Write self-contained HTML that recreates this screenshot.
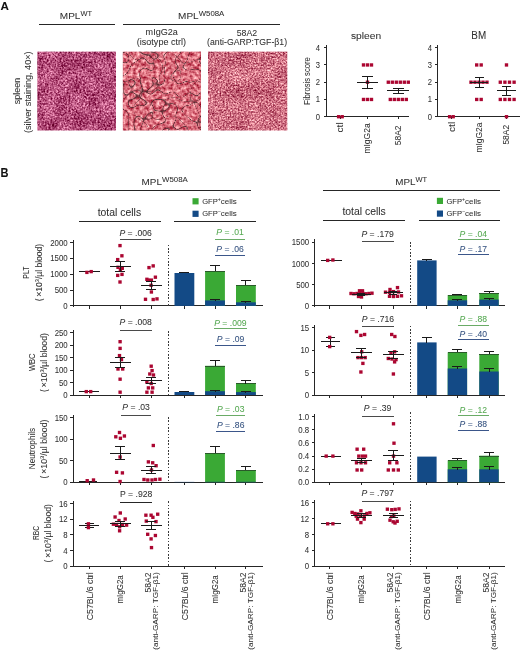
<!DOCTYPE html>
<html><head><meta charset="utf-8"><title>Figure</title>
<style>
html,body{margin:0;padding:0;background:#fff;}
body{width:520px;height:650px;overflow:hidden;}
svg{display:block;filter:blur(0.3px);}
svg text{font-family:"Liberation Sans", sans-serif;stroke-width:0.05px;}
svg line{shape-rendering:crispEdges;}
</style></head>
<body>
<svg width="520" height="650" viewBox="0 0 520 650">
<defs>
<filter id="h1" x="0" y="0" width="1" height="1" color-interpolation-filters="sRGB">
<feTurbulence type="fractalNoise" baseFrequency="0.55" numOctaves="2" seed="3" result="f0"/>
<feColorMatrix in="f0" type="matrix" values="1 0 0 0 0  1 0 0 0 0  1 0 0 0 0  0 0 0 0 1" result="f"/>
<feTurbulence type="fractalNoise" baseFrequency="0.07" numOctaves="2" seed="9" result="c0"/>
<feColorMatrix in="c0" type="matrix" values="1 0 0 0 0  1 0 0 0 0  1 0 0 0 0  0 0 0 0 1" result="c"/>
<feComposite in="f" in2="c" operator="arithmetic" k1="0" k2="0.9" k3="0.28" k4="-0.09" result="m0"/>
<feColorMatrix in="m0" type="matrix" values="1 0 0 0 0  1 0 0 0 0  1 0 0 0 0  0 0 0 0 1" result="m"/>
<feColorMatrix in="m" type="matrix" values="1.05 0 0 0 0.18  1.2 0 0 0 -0.29  1.1 0 0 0 -0.07  0 0 0 0 1"/>
<feComposite in2="SourceGraphic" operator="in"/>
</filter>
<filter id="h2" x="0" y="0" width="1" height="1" color-interpolation-filters="sRGB">
<feTurbulence type="fractalNoise" baseFrequency="0.3" numOctaves="2" seed="7" result="n"/>
<feColorMatrix in="n" type="matrix" values="0.75 0 0 0 0.48  1.2 0 0 0 -0.16  1.05 0 0 0 -0.03  0 0 0 0 1" result="b"/>
<feTurbulence type="turbulence" baseFrequency="0.085" numOctaves="1" seed="21" result="t"/>
<feColorMatrix in="t" type="matrix" values="0 0 0 0 0.3  0 0 0 0 0.16  0 0 0 0 0.18  0 0 0 -20 0.9" result="l"/>
<feTurbulence type="turbulence" baseFrequency="0.05" numOctaves="1" seed="5" result="t2"/>
<feColorMatrix in="t2" type="matrix" values="0 0 0 0 0.28  0 0 0 0 0.14  0 0 0 0 0.16  0 0 0 -24 0.55" result="l2"/>
<feComposite in="l" in2="b" operator="over" result="c"/>
<feComposite in="l2" in2="c" operator="over" result="c2"/>
<feComposite in="c2" in2="SourceGraphic" operator="in"/>
</filter>
<filter id="h3" x="0" y="0" width="1" height="1" color-interpolation-filters="sRGB">
<feTurbulence type="fractalNoise" baseFrequency="0.6" numOctaves="2" seed="11" result="f0"/>
<feColorMatrix in="f0" type="matrix" values="1 0 0 0 0  1 0 0 0 0  1 0 0 0 0  0 0 0 0 1" result="f"/>
<feTurbulence type="fractalNoise" baseFrequency="0.06" numOctaves="2" seed="4" result="c0"/>
<feColorMatrix in="c0" type="matrix" values="1 0 0 0 0  1 0 0 0 0  1 0 0 0 0  0 0 0 0 1" result="c"/>
<feComposite in="f" in2="c" operator="arithmetic" k1="0" k2="0.9" k3="0.25" k4="-0.075" result="m0"/>
<feColorMatrix in="m0" type="matrix" values="1 0 0 0 0  1 0 0 0 0  1 0 0 0 0  0 0 0 0 1" result="m"/>
<feColorMatrix in="m" type="matrix" values="1.0 0 0 0 0.309  1.3 0 0 0 -0.206  1.1 0 0 0 -0.034  0 0 0 0 1"/>
<feComposite in2="SourceGraphic" operator="in"/>
</filter>
</defs>
<rect width="520" height="650" fill="#fff"/>
<text x="0.4" y="9.9" font-size="11.6" font-weight="bold" fill="#111" stroke="#111">A</text>
<text x="0.5" y="176.6" font-size="12.3" font-weight="bold" fill="#111" stroke="#111" textLength="8.0" lengthAdjust="spacingAndGlyphs">B</text>
<text x="59.8" y="18.75" font-size="9.3" fill="#303030" stroke="#303030"><tspan textLength="20.6" lengthAdjust="spacingAndGlyphs">MPL</tspan><tspan font-size="6.6" dy="-3.2" textLength="11.6" lengthAdjust="spacingAndGlyphs">WT</tspan></text>
<text x="178.1" y="18.75" font-size="9.3" fill="#303030" stroke="#303030"><tspan textLength="20.6" lengthAdjust="spacingAndGlyphs">MPL</tspan><tspan font-size="6.6" dy="-3.2" textLength="25.6" lengthAdjust="spacingAndGlyphs">W508A</tspan></text>
<line x1="38.9" y1="24.5" x2="114.8" y2="24.5" stroke="#262626" stroke-width="1" />
<line x1="122.8" y1="24.5" x2="280.4" y2="24.5" stroke="#262626" stroke-width="1" />
<text x="145.6" y="35.1" font-size="8.8" text-anchor="start" fill="#303030" stroke="#303030" textLength="32.2" lengthAdjust="spacingAndGlyphs" >mIgG2a</text>
<text x="136.8" y="45.1" font-size="8.8" text-anchor="start" fill="#303030" stroke="#303030" textLength="49.2" lengthAdjust="spacingAndGlyphs" >(isotype ctrl)</text>
<text x="236.7" y="35.6" font-size="8.8" text-anchor="start" fill="#303030" stroke="#303030" textLength="20.4" lengthAdjust="spacingAndGlyphs" >58A2</text>
<text x="207.1" y="45.3" font-size="8.8" text-anchor="start" fill="#303030" stroke="#303030" textLength="80.0" lengthAdjust="spacingAndGlyphs" >(anti-GARP:TGF-β1)</text>
<text transform="translate(20.1,91.0) rotate(-90)" font-size="9.0" text-anchor="middle" fill="#303030" stroke="#303030" textLength="26.5" lengthAdjust="spacingAndGlyphs" >spleen</text>
<text transform="translate(31.2,92.2) rotate(-90)" font-size="9.0" text-anchor="middle" fill="#303030" stroke="#303030" textLength="81.5" lengthAdjust="spacingAndGlyphs" >(silver staining, 40×)</text>
<rect x="37.3" y="51.6" width="78.7" height="78.9" fill="#000" filter="url(#h1)"/>
<rect x="122.8" y="51.6" width="78.2" height="78.9" fill="#000" filter="url(#h2)"/>
<rect x="208.0" y="51.6" width="79.3" height="78.9" fill="#000" filter="url(#h3)"/>
<line x1="326.5" y1="45.0" x2="326.5" y2="117.25" stroke="#262626" stroke-width="1" />
<line x1="325.55" y1="116.5" x2="408.8" y2="116.5" stroke="#262626" stroke-width="1" />
<line x1="323.5" y1="116.5" x2="326.1" y2="116.5" stroke="#262626" stroke-width="1" />
<text x="320.1" y="119.7" font-size="8.8" text-anchor="end" fill="#303030" stroke="#303030" textLength="4.26" lengthAdjust="spacingAndGlyphs" >0</text>
<line x1="323.5" y1="99.5" x2="326.1" y2="99.5" stroke="#262626" stroke-width="1" />
<text x="320.1" y="102.45" font-size="8.8" text-anchor="end" fill="#303030" stroke="#303030" textLength="4.26" lengthAdjust="spacingAndGlyphs" >1</text>
<line x1="323.5" y1="82.5" x2="326.1" y2="82.5" stroke="#262626" stroke-width="1" />
<text x="320.1" y="85.2" font-size="8.8" text-anchor="end" fill="#303030" stroke="#303030" textLength="4.26" lengthAdjust="spacingAndGlyphs" >2</text>
<line x1="323.5" y1="64.5" x2="326.1" y2="64.5" stroke="#262626" stroke-width="1" />
<text x="320.1" y="67.95" font-size="8.8" text-anchor="end" fill="#303030" stroke="#303030" textLength="4.26" lengthAdjust="spacingAndGlyphs" >3</text>
<line x1="323.5" y1="47.5" x2="326.1" y2="47.5" stroke="#262626" stroke-width="1" />
<text x="320.1" y="50.7" font-size="8.8" text-anchor="end" fill="#303030" stroke="#303030" textLength="4.26" lengthAdjust="spacingAndGlyphs" >4</text>
<line x1="340.5" y1="116.7" x2="340.5" y2="119.2" stroke="#262626" stroke-width="1" />
<line x1="367.5" y1="116.7" x2="367.5" y2="119.2" stroke="#262626" stroke-width="1" />
<line x1="398.5" y1="116.7" x2="398.5" y2="119.2" stroke="#262626" stroke-width="1" />
<text x="350.9" y="38.5" font-size="9.6" text-anchor="start" fill="#303030" stroke="#303030" textLength="30.2" lengthAdjust="spacingAndGlyphs" >spleen</text>
<text transform="translate(310.0,81.0) rotate(-90)" font-size="8.6" text-anchor="middle" fill="#303030" stroke="#303030" textLength="47.5" lengthAdjust="spacingAndGlyphs" >Fibrosis score</text>
<line x1="437.5" y1="45.0" x2="437.5" y2="117.25" stroke="#262626" stroke-width="1" />
<line x1="437.34999999999997" y1="116.5" x2="520" y2="116.5" stroke="#262626" stroke-width="1" />
<line x1="435.29999999999995" y1="116.5" x2="437.9" y2="116.5" stroke="#262626" stroke-width="1" />
<text x="431.9" y="119.7" font-size="8.8" text-anchor="end" fill="#303030" stroke="#303030" textLength="4.26" lengthAdjust="spacingAndGlyphs" >0</text>
<line x1="435.29999999999995" y1="99.5" x2="437.9" y2="99.5" stroke="#262626" stroke-width="1" />
<text x="431.9" y="102.45" font-size="8.8" text-anchor="end" fill="#303030" stroke="#303030" textLength="4.26" lengthAdjust="spacingAndGlyphs" >1</text>
<line x1="435.29999999999995" y1="82.5" x2="437.9" y2="82.5" stroke="#262626" stroke-width="1" />
<text x="431.9" y="85.2" font-size="8.8" text-anchor="end" fill="#303030" stroke="#303030" textLength="4.26" lengthAdjust="spacingAndGlyphs" >2</text>
<line x1="435.29999999999995" y1="64.5" x2="437.9" y2="64.5" stroke="#262626" stroke-width="1" />
<text x="431.9" y="67.95" font-size="8.8" text-anchor="end" fill="#303030" stroke="#303030" textLength="4.26" lengthAdjust="spacingAndGlyphs" >3</text>
<line x1="435.29999999999995" y1="47.5" x2="437.9" y2="47.5" stroke="#262626" stroke-width="1" />
<text x="431.9" y="50.7" font-size="8.8" text-anchor="end" fill="#303030" stroke="#303030" textLength="4.26" lengthAdjust="spacingAndGlyphs" >4</text>
<line x1="451.5" y1="116.7" x2="451.5" y2="119.2" stroke="#262626" stroke-width="1" />
<line x1="479.5" y1="116.7" x2="479.5" y2="119.2" stroke="#262626" stroke-width="1" />
<line x1="506.5" y1="116.7" x2="506.5" y2="119.2" stroke="#262626" stroke-width="1" />
<text x="471.3" y="38.85" font-size="10.0" text-anchor="start" fill="#303030" stroke="#303030" textLength="14.8" lengthAdjust="spacingAndGlyphs" >BM</text>
<text transform="translate(343.2,122.3) rotate(-90)" font-size="8.3" text-anchor="end" fill="#303030" stroke="#303030" textLength="10.2" lengthAdjust="spacingAndGlyphs" >ctl</text>
<text transform="translate(370.3,123.4) rotate(-90)" font-size="8.3" text-anchor="end" fill="#303030" stroke="#303030" textLength="30.2" lengthAdjust="spacingAndGlyphs" >mIgG2a</text>
<text transform="translate(400.8,125.5) rotate(-90)" font-size="8.3" text-anchor="end" fill="#303030" stroke="#303030" textLength="19.7" lengthAdjust="spacingAndGlyphs" >58A2</text>
<text transform="translate(454.5,121.8) rotate(-90)" font-size="8.3" text-anchor="end" fill="#303030" stroke="#303030" textLength="10.2" lengthAdjust="spacingAndGlyphs" >ctl</text>
<text transform="translate(481.9,122.6) rotate(-90)" font-size="8.3" text-anchor="end" fill="#303030" stroke="#303030" textLength="30.0" lengthAdjust="spacingAndGlyphs" >mIgG2a</text>
<text transform="translate(509.2,124.9) rotate(-90)" font-size="8.3" text-anchor="end" fill="#303030" stroke="#303030" textLength="19.7" lengthAdjust="spacingAndGlyphs" >58A2</text>
<rect x="336.93" y="115.03" width="3.35" height="3.35" fill="#ab0631"/>
<rect x="340.52" y="115.03" width="3.35" height="3.35" fill="#ab0631"/>
<rect x="361.82" y="63.28" width="3.35" height="3.35" fill="#ab0631"/>
<rect x="365.82" y="63.28" width="3.35" height="3.35" fill="#ab0631"/>
<rect x="369.82" y="63.28" width="3.35" height="3.35" fill="#ab0631"/>
<rect x="365.82" y="80.53" width="3.35" height="3.35" fill="#ab0631"/>
<rect x="361.82" y="97.78" width="3.35" height="3.35" fill="#ab0631"/>
<rect x="365.82" y="97.78" width="3.35" height="3.35" fill="#ab0631"/>
<rect x="369.82" y="97.78" width="3.35" height="3.35" fill="#ab0631"/>
<rect x="386.62" y="80.53" width="3.35" height="3.35" fill="#ab0631"/>
<rect x="390.62" y="80.53" width="3.35" height="3.35" fill="#ab0631"/>
<rect x="394.62" y="80.53" width="3.35" height="3.35" fill="#ab0631"/>
<rect x="398.62" y="80.53" width="3.35" height="3.35" fill="#ab0631"/>
<rect x="402.62" y="80.53" width="3.35" height="3.35" fill="#ab0631"/>
<rect x="406.62" y="80.53" width="3.35" height="3.35" fill="#ab0631"/>
<rect x="388.62" y="97.78" width="3.35" height="3.35" fill="#ab0631"/>
<rect x="392.62" y="97.78" width="3.35" height="3.35" fill="#ab0631"/>
<rect x="396.62" y="97.78" width="3.35" height="3.35" fill="#ab0631"/>
<rect x="400.62" y="97.78" width="3.35" height="3.35" fill="#ab0631"/>
<rect x="404.62" y="97.78" width="3.35" height="3.35" fill="#ab0631"/>
<line x1="357.0" y1="82.5" x2="378.0" y2="82.5" stroke="#1a1a1a" stroke-width="1" />
<line x1="367.5" y1="76.1625" x2="367.5" y2="88.23750000000001" stroke="#1a1a1a" stroke-width="1" />
<line x1="362.0" y1="76.5" x2="373.0" y2="76.5" stroke="#1a1a1a" stroke-width="1" />
<line x1="362.0" y1="88.5" x2="373.0" y2="88.5" stroke="#1a1a1a" stroke-width="1" />
<line x1="387.3" y1="90.5" x2="409.3" y2="90.5" stroke="#1a1a1a" stroke-width="1" />
<line x1="398.5" y1="88.23750000000001" x2="398.5" y2="93.4125" stroke="#1a1a1a" stroke-width="1" />
<line x1="392.8" y1="88.5" x2="403.8" y2="88.5" stroke="#1a1a1a" stroke-width="1" />
<line x1="392.8" y1="93.5" x2="403.8" y2="93.5" stroke="#1a1a1a" stroke-width="1" />
<rect x="447.93" y="115.03" width="3.35" height="3.35" fill="#ab0631"/>
<rect x="451.52" y="115.03" width="3.35" height="3.35" fill="#ab0631"/>
<rect x="475.02" y="63.28" width="3.35" height="3.35" fill="#ab0631"/>
<rect x="479.52" y="63.28" width="3.35" height="3.35" fill="#ab0631"/>
<rect x="469.32" y="80.53" width="3.35" height="3.35" fill="#ab0631"/>
<rect x="473.32" y="80.53" width="3.35" height="3.35" fill="#ab0631"/>
<rect x="477.32" y="80.53" width="3.35" height="3.35" fill="#ab0631"/>
<rect x="481.32" y="80.53" width="3.35" height="3.35" fill="#ab0631"/>
<rect x="485.32" y="80.53" width="3.35" height="3.35" fill="#ab0631"/>
<rect x="475.02" y="97.78" width="3.35" height="3.35" fill="#ab0631"/>
<rect x="479.52" y="97.78" width="3.35" height="3.35" fill="#ab0631"/>
<rect x="504.82" y="63.28" width="3.35" height="3.35" fill="#ab0631"/>
<rect x="498.62" y="80.53" width="3.35" height="3.35" fill="#ab0631"/>
<rect x="503.23" y="80.53" width="3.35" height="3.35" fill="#ab0631"/>
<rect x="507.82" y="80.53" width="3.35" height="3.35" fill="#ab0631"/>
<rect x="512.43" y="80.53" width="3.35" height="3.35" fill="#ab0631"/>
<rect x="498.62" y="97.78" width="3.35" height="3.35" fill="#ab0631"/>
<rect x="503.23" y="97.78" width="3.35" height="3.35" fill="#ab0631"/>
<rect x="507.82" y="97.78" width="3.35" height="3.35" fill="#ab0631"/>
<rect x="512.43" y="97.78" width="3.35" height="3.35" fill="#ab0631"/>
<rect x="504.82" y="115.03" width="3.35" height="3.35" fill="#ab0631"/>
<line x1="469.7" y1="82.5" x2="488.3" y2="82.5" stroke="#1a1a1a" stroke-width="1" />
<line x1="479.5" y1="77.025" x2="479.5" y2="87.03" stroke="#1a1a1a" stroke-width="1" />
<line x1="474.5" y1="77.5" x2="483.5" y2="77.5" stroke="#1a1a1a" stroke-width="1" />
<line x1="474.5" y1="87.5" x2="483.5" y2="87.5" stroke="#1a1a1a" stroke-width="1" />
<line x1="497.2" y1="90.5" x2="515.8" y2="90.5" stroke="#1a1a1a" stroke-width="1" />
<line x1="506.5" y1="86.5125" x2="506.5" y2="95.655" stroke="#1a1a1a" stroke-width="1" />
<line x1="502.0" y1="86.5" x2="511.0" y2="86.5" stroke="#1a1a1a" stroke-width="1" />
<line x1="502.0" y1="95.5" x2="511.0" y2="95.5" stroke="#1a1a1a" stroke-width="1" />
<text x="141.6" y="184.7" font-size="9.0" fill="#303030" stroke="#303030"><tspan textLength="20.4" lengthAdjust="spacingAndGlyphs">MPL</tspan><tspan font-size="6.4" dy="-2.9" textLength="25.8" lengthAdjust="spacingAndGlyphs">W508A</tspan></text>
<line x1="78.5" y1="190.5" x2="250.8" y2="190.5" stroke="#262626" stroke-width="1" />
<text x="97.7" y="215.5" font-size="10.0" text-anchor="start" fill="#303030" stroke="#303030" textLength="43.4" lengthAdjust="spacingAndGlyphs" >total cells</text>
<line x1="78.5" y1="221.5" x2="161" y2="221.5" stroke="#262626" stroke-width="1" />
<line x1="173.6" y1="221.5" x2="255.7" y2="221.5" stroke="#262626" stroke-width="1" />
<rect x="192.5" y="198.2" width="6.1" height="6.2" fill="#3aa935"/>
<rect x="192.5" y="210.7" width="6.1" height="6.2" fill="#134a86"/>
<text x="202.2" y="203.7" font-size="7.6" fill="#303030" stroke="#303030"><tspan textLength="15.6" lengthAdjust="spacingAndGlyphs">GFP</tspan><tspan font-size="5.2" dy="-2.9">+</tspan><tspan dy="2.9" textLength="15.9" lengthAdjust="spacingAndGlyphs">cells</tspan></text>
<text x="202.2" y="216.3" font-size="7.6" fill="#303030" stroke="#303030"><tspan textLength="15.6" lengthAdjust="spacingAndGlyphs">GFP</tspan><tspan font-size="5.2" dy="-2.9">−</tspan><tspan dy="2.9" textLength="15.9" lengthAdjust="spacingAndGlyphs">cells</tspan></text>
<text x="395.3" y="185.0" font-size="9.0" fill="#303030" stroke="#303030"><tspan textLength="20.2" lengthAdjust="spacingAndGlyphs">MPL</tspan><tspan font-size="6.4" dy="-3.0" textLength="11.6" lengthAdjust="spacingAndGlyphs">WT</tspan></text>
<line x1="323" y1="190.5" x2="500" y2="190.5" stroke="#262626" stroke-width="1" />
<text x="342.4" y="215.3" font-size="10.0" text-anchor="start" fill="#303030" stroke="#303030" textLength="43.4" lengthAdjust="spacingAndGlyphs" >total cells</text>
<line x1="323" y1="220.5" x2="404.6" y2="220.5" stroke="#262626" stroke-width="1" />
<line x1="418.8" y1="220.5" x2="500" y2="220.5" stroke="#262626" stroke-width="1" />
<rect x="436.9" y="197.8" width="6.1" height="6.2" fill="#3aa935"/>
<rect x="436.9" y="210.5" width="6.1" height="6.2" fill="#134a86"/>
<text x="446.4" y="203.6" font-size="7.6" fill="#303030" stroke="#303030"><tspan textLength="15.6" lengthAdjust="spacingAndGlyphs">GFP</tspan><tspan font-size="5.2" dy="-2.9">+</tspan><tspan dy="2.9" textLength="15.9" lengthAdjust="spacingAndGlyphs">cells</tspan></text>
<text x="446.4" y="216.3" font-size="7.6" fill="#303030" stroke="#303030"><tspan textLength="15.6" lengthAdjust="spacingAndGlyphs">GFP</tspan><tspan font-size="5.2" dy="-2.9">−</tspan><tspan dy="2.9" textLength="15.9" lengthAdjust="spacingAndGlyphs">cells</tspan></text>
<line x1="73.5" y1="239.6" x2="73.5" y2="306.5" stroke="#262626" stroke-width="1" />
<line x1="72.7" y1="305.5" x2="262.5" y2="305.5" stroke="#262626" stroke-width="1" />
<line x1="70.2" y1="305.5" x2="73.3" y2="305.5" stroke="#262626" stroke-width="1" />
<text x="67.7" y="309.00" font-size="9.0" text-anchor="end" fill="#303030" stroke="#303030" textLength="4.35" lengthAdjust="spacingAndGlyphs">0</text>
<line x1="70.2" y1="290.5" x2="73.3" y2="290.5" stroke="#262626" stroke-width="1" />
<text x="67.7" y="293.12" font-size="9.0" text-anchor="end" fill="#303030" stroke="#303030" textLength="13.06" lengthAdjust="spacingAndGlyphs">500</text>
<line x1="70.2" y1="274.5" x2="73.3" y2="274.5" stroke="#262626" stroke-width="1" />
<text x="67.7" y="277.25" font-size="9.0" text-anchor="end" fill="#303030" stroke="#303030" textLength="17.42" lengthAdjust="spacingAndGlyphs">1000</text>
<line x1="70.2" y1="258.5" x2="73.3" y2="258.5" stroke="#262626" stroke-width="1" />
<text x="67.7" y="261.38" font-size="9.0" text-anchor="end" fill="#303030" stroke="#303030" textLength="17.42" lengthAdjust="spacingAndGlyphs">1500</text>
<line x1="70.2" y1="242.5" x2="73.3" y2="242.5" stroke="#262626" stroke-width="1" />
<text x="67.7" y="245.50" font-size="9.0" text-anchor="end" fill="#303030" stroke="#303030" textLength="17.42" lengthAdjust="spacingAndGlyphs">2000</text>
<line x1="89.5" y1="305.9" x2="89.5" y2="309.09999999999997" stroke="#262626" stroke-width="1" />
<line x1="120.5" y1="305.9" x2="120.5" y2="309.09999999999997" stroke="#262626" stroke-width="1" />
<line x1="151.5" y1="305.9" x2="151.5" y2="309.09999999999997" stroke="#262626" stroke-width="1" />
<line x1="184.5" y1="305.9" x2="184.5" y2="309.09999999999997" stroke="#262626" stroke-width="1" />
<line x1="215.5" y1="305.9" x2="215.5" y2="309.09999999999997" stroke="#262626" stroke-width="1" />
<line x1="245.5" y1="305.9" x2="245.5" y2="309.09999999999997" stroke="#262626" stroke-width="1" />
<line x1="168.5" y1="244.6" x2="168.5" y2="305.9" stroke="#3a3a3a" stroke-width="1" stroke-dasharray="1.6,1.7"/>
<text transform="translate(29.2,272.65) rotate(-90)" font-size="8.6" text-anchor="middle" fill="#303030" stroke="#303030" textLength="12.2" lengthAdjust="spacingAndGlyphs" >PLT</text>
<text transform="translate(42.0,272.6) rotate(-90)" font-size="8.6" text-anchor="middle" fill="#303030" stroke="#303030" textLength="57.5" lengthAdjust="spacingAndGlyphs">( ×10<tspan font-size="5.8" dy="-3.1">3</tspan><tspan dy="3.1">/µl blood)</tspan></text>
<line x1="314.5" y1="239.45" x2="314.5" y2="306.5" stroke="#262626" stroke-width="1" />
<line x1="314.2" y1="305.5" x2="504.6" y2="305.5" stroke="#262626" stroke-width="1" />
<line x1="311.7" y1="305.5" x2="314.8" y2="305.5" stroke="#262626" stroke-width="1" />
<text x="309.2" y="309.00" font-size="9.0" text-anchor="end" fill="#303030" stroke="#303030" textLength="4.35" lengthAdjust="spacingAndGlyphs">0</text>
<line x1="311.7" y1="284.5" x2="314.8" y2="284.5" stroke="#262626" stroke-width="1" />
<text x="309.2" y="287.78" font-size="9.0" text-anchor="end" fill="#303030" stroke="#303030" textLength="13.06" lengthAdjust="spacingAndGlyphs">500</text>
<line x1="311.7" y1="263.5" x2="314.8" y2="263.5" stroke="#262626" stroke-width="1" />
<text x="309.2" y="266.57" font-size="9.0" text-anchor="end" fill="#303030" stroke="#303030" textLength="17.42" lengthAdjust="spacingAndGlyphs">1000</text>
<line x1="311.7" y1="242.5" x2="314.8" y2="242.5" stroke="#262626" stroke-width="1" />
<text x="309.2" y="245.35" font-size="9.0" text-anchor="end" fill="#303030" stroke="#303030" textLength="17.42" lengthAdjust="spacingAndGlyphs">1500</text>
<line x1="329.5" y1="305.9" x2="329.5" y2="309.09999999999997" stroke="#262626" stroke-width="1" />
<line x1="361.5" y1="305.9" x2="361.5" y2="309.09999999999997" stroke="#262626" stroke-width="1" />
<line x1="393.5" y1="305.9" x2="393.5" y2="309.09999999999997" stroke="#262626" stroke-width="1" />
<line x1="426.5" y1="305.9" x2="426.5" y2="309.09999999999997" stroke="#262626" stroke-width="1" />
<line x1="457.5" y1="305.9" x2="457.5" y2="309.09999999999997" stroke="#262626" stroke-width="1" />
<line x1="489.5" y1="305.9" x2="489.5" y2="309.09999999999997" stroke="#262626" stroke-width="1" />
<line x1="410.5" y1="242" x2="410.5" y2="305.9" stroke="#3a3a3a" stroke-width="1" stroke-dasharray="1.6,1.7"/>
<line x1="78.7" y1="271.5" x2="99.7" y2="271.5" stroke="#1a1a1a" stroke-width="1" />
<line x1="89.5" y1="271.5" x2="89.5" y2="271.5" stroke="#1a1a1a" stroke-width="1" />
<line x1="89.5" y1="271.5" x2="89.5" y2="271.5" stroke="#1a1a1a" stroke-width="1" />
<line x1="89.5" y1="271.5" x2="89.5" y2="271.5" stroke="#1a1a1a" stroke-width="1" />
<rect x="85.23" y="270.72" width="3.35" height="3.35" fill="#ab0631"/>
<rect x="89.53" y="269.93" width="3.35" height="3.35" fill="#ab0631"/>
<rect x="118.33" y="243.92" width="3.35" height="3.35" fill="#ab0631"/>
<rect x="120.23" y="254.12" width="3.35" height="3.35" fill="#ab0631"/>
<rect x="116.03" y="257.93" width="3.35" height="3.35" fill="#ab0631"/>
<rect x="116.33" y="265.62" width="3.35" height="3.35" fill="#ab0631"/>
<rect x="120.62" y="266.62" width="3.35" height="3.35" fill="#ab0631"/>
<rect x="118.73" y="267.93" width="3.35" height="3.35" fill="#ab0631"/>
<rect x="116.03" y="273.72" width="3.35" height="3.35" fill="#ab0631"/>
<rect x="120.33" y="272.72" width="3.35" height="3.35" fill="#ab0631"/>
<rect x="118.33" y="280.32" width="3.35" height="3.35" fill="#ab0631"/>
<line x1="109.5" y1="266.5" x2="130.7" y2="266.5" stroke="#1a1a1a" stroke-width="1" />
<line x1="120.5" y1="261.9" x2="120.5" y2="271.2" stroke="#1a1a1a" stroke-width="1" />
<line x1="114.89999999999999" y1="261.5" x2="125.3" y2="261.5" stroke="#1a1a1a" stroke-width="1" />
<line x1="114.89999999999999" y1="271.5" x2="125.3" y2="271.5" stroke="#1a1a1a" stroke-width="1" />
<rect x="147.32" y="265.93" width="3.35" height="3.35" fill="#ab0631"/>
<rect x="151.52" y="264.22" width="3.35" height="3.35" fill="#ab0631"/>
<rect x="153.72" y="275.52" width="3.35" height="3.35" fill="#ab0631"/>
<rect x="145.22" y="277.62" width="3.35" height="3.35" fill="#ab0631"/>
<rect x="146.72" y="278.43" width="3.35" height="3.35" fill="#ab0631"/>
<rect x="149.72" y="278.43" width="3.35" height="3.35" fill="#ab0631"/>
<rect x="149.42" y="283.62" width="3.35" height="3.35" fill="#ab0631"/>
<rect x="149.72" y="290.32" width="3.35" height="3.35" fill="#ab0631"/>
<rect x="143.82" y="297.62" width="3.35" height="3.35" fill="#ab0631"/>
<rect x="151.52" y="297.82" width="3.35" height="3.35" fill="#ab0631"/>
<rect x="155.32" y="297.22" width="3.35" height="3.35" fill="#ab0631"/>
<line x1="140.8" y1="285.5" x2="161.8" y2="285.5" stroke="#1a1a1a" stroke-width="1" />
<line x1="151.5" y1="281.3" x2="151.5" y2="289.4" stroke="#1a1a1a" stroke-width="1" />
<line x1="146.3" y1="281.5" x2="156.3" y2="281.5" stroke="#1a1a1a" stroke-width="1" />
<line x1="146.3" y1="289.5" x2="156.3" y2="289.5" stroke="#1a1a1a" stroke-width="1" />
<text x="135.60" y="236.00" font-size="9.2" text-anchor="middle" fill="#303030" stroke="#303030" textLength="32.33" lengthAdjust="spacingAndGlyphs"><tspan font-style="italic">P</tspan> = .006</text>
<line x1="120.4" y1="239.5" x2="150.8" y2="239.5" stroke="#4a4a4a" stroke-width="1" />
<rect x="174.5" y="273.0" width="19.8" height="32.89999999999998" fill="#134a86"/>
<line x1="184.5" y1="272.3" x2="184.5" y2="273.4" stroke="#1a1a1a" stroke-width="1" />
<line x1="179.4" y1="272.5" x2="189.4" y2="272.5" stroke="#1a1a1a" stroke-width="1" />
<rect x="205.1" y="271.0" width="19.8" height="34.89999999999998" fill="#3aa935"/>
<line x1="205.1" y1="271.5" x2="224.9" y2="271.5" stroke="#2a5a2a" stroke-width="1" />
<rect x="205.1" y="300.4" width="19.8" height="5.5" fill="#134a86"/>
<line x1="215.5" y1="265.6" x2="215.5" y2="271.0" stroke="#1a1a1a" stroke-width="1" />
<line x1="210.0" y1="265.5" x2="220.0" y2="265.5" stroke="#1a1a1a" stroke-width="1" />
<line x1="215.5" y1="299.4" x2="215.5" y2="300.79999999999995" stroke="#1a1a1a" stroke-width="1" />
<line x1="210.0" y1="299.5" x2="220.0" y2="299.5" stroke="#1a1a1a" stroke-width="1" />
<rect x="236.0" y="285.0" width="19.8" height="20.899999999999977" fill="#3aa935"/>
<line x1="236.0" y1="285.5" x2="255.8" y2="285.5" stroke="#2a5a2a" stroke-width="1" />
<rect x="236.0" y="302.3" width="19.8" height="3.599999999999966" fill="#134a86"/>
<line x1="245.5" y1="280.6" x2="245.5" y2="285.0" stroke="#1a1a1a" stroke-width="1" />
<line x1="240.9" y1="280.5" x2="250.9" y2="280.5" stroke="#1a1a1a" stroke-width="1" />
<line x1="245.5" y1="301.3" x2="245.5" y2="302.7" stroke="#1a1a1a" stroke-width="1" />
<line x1="240.9" y1="301.5" x2="250.9" y2="301.5" stroke="#1a1a1a" stroke-width="1" />
<text x="230.00" y="235.40" font-size="9.2" text-anchor="middle" fill="#55a851" stroke="#55a851" textLength="27.53" lengthAdjust="spacingAndGlyphs"><tspan font-style="italic">P</tspan> = .01</text>
<line x1="214.6" y1="239.5" x2="245.4" y2="239.5" stroke="#6aab66" stroke-width="1" />
<text x="230.00" y="252.10" font-size="9.2" text-anchor="middle" fill="#33507f" stroke="#33507f" textLength="27.53" lengthAdjust="spacingAndGlyphs"><tspan font-style="italic">P</tspan> = .06</text>
<line x1="214.6" y1="255.5" x2="245.4" y2="255.5" stroke="#3b568a" stroke-width="1" />
<line x1="320.5" y1="260.5" x2="341.5" y2="260.5" stroke="#1a1a1a" stroke-width="1" />
<line x1="331.5" y1="260.5" x2="331.5" y2="260.5" stroke="#1a1a1a" stroke-width="1" />
<line x1="331.5" y1="260.5" x2="331.5" y2="260.5" stroke="#1a1a1a" stroke-width="1" />
<line x1="331.5" y1="260.5" x2="331.5" y2="260.5" stroke="#1a1a1a" stroke-width="1" />
<rect x="326.02" y="258.72" width="3.35" height="3.35" fill="#ab0631"/>
<rect x="331.22" y="258.32" width="3.35" height="3.35" fill="#ab0631"/>
<rect x="349.32" y="291.82" width="3.35" height="3.35" fill="#ab0631"/>
<rect x="352.32" y="292.12" width="3.35" height="3.35" fill="#ab0631"/>
<rect x="355.32" y="291.82" width="3.35" height="3.35" fill="#ab0631"/>
<rect x="358.32" y="291.52" width="3.35" height="3.35" fill="#ab0631"/>
<rect x="361.32" y="291.82" width="3.35" height="3.35" fill="#ab0631"/>
<rect x="364.32" y="292.12" width="3.35" height="3.35" fill="#ab0631"/>
<rect x="367.32" y="291.82" width="3.35" height="3.35" fill="#ab0631"/>
<rect x="370.32" y="291.52" width="3.35" height="3.35" fill="#ab0631"/>
<rect x="357.82" y="289.12" width="3.35" height="3.35" fill="#ab0631"/>
<rect x="360.82" y="289.12" width="3.35" height="3.35" fill="#ab0631"/>
<rect x="356.82" y="294.82" width="3.35" height="3.35" fill="#ab0631"/>
<rect x="359.82" y="295.32" width="3.35" height="3.35" fill="#ab0631"/>
<line x1="351.7" y1="294.5" x2="370.7" y2="294.5" stroke="#1a1a1a" stroke-width="1" />
<line x1="361.5" y1="293.2" x2="361.5" y2="295.2" stroke="#1a1a1a" stroke-width="1" />
<line x1="357.2" y1="293.5" x2="365.2" y2="293.5" stroke="#1a1a1a" stroke-width="1" />
<line x1="357.2" y1="295.5" x2="365.2" y2="295.5" stroke="#1a1a1a" stroke-width="1" />
<rect x="388.32" y="287.82" width="3.35" height="3.35" fill="#ab0631"/>
<rect x="395.82" y="285.93" width="3.35" height="3.35" fill="#ab0631"/>
<rect x="383.82" y="290.52" width="3.35" height="3.35" fill="#ab0631"/>
<rect x="387.82" y="290.82" width="3.35" height="3.35" fill="#ab0631"/>
<rect x="391.82" y="289.93" width="3.35" height="3.35" fill="#ab0631"/>
<rect x="396.82" y="290.32" width="3.35" height="3.35" fill="#ab0631"/>
<rect x="387.82" y="294.62" width="3.35" height="3.35" fill="#ab0631"/>
<rect x="391.82" y="294.82" width="3.35" height="3.35" fill="#ab0631"/>
<rect x="395.82" y="294.62" width="3.35" height="3.35" fill="#ab0631"/>
<rect x="399.82" y="294.12" width="3.35" height="3.35" fill="#ab0631"/>
<line x1="383.5" y1="292.5" x2="403.1" y2="292.5" stroke="#1a1a1a" stroke-width="1" />
<line x1="393.5" y1="291.3" x2="393.5" y2="294" stroke="#1a1a1a" stroke-width="1" />
<line x1="389.3" y1="291.5" x2="397.3" y2="291.5" stroke="#1a1a1a" stroke-width="1" />
<line x1="389.3" y1="294.5" x2="397.3" y2="294.5" stroke="#1a1a1a" stroke-width="1" />
<text x="377.60" y="237.40" font-size="9.2" text-anchor="middle" fill="#303030" stroke="#303030" textLength="32.33" lengthAdjust="spacingAndGlyphs"><tspan font-style="italic">P</tspan> = .179</text>
<line x1="361.7" y1="241.5" x2="393.5" y2="241.5" stroke="#4a4a4a" stroke-width="1" />
<rect x="417.2" y="260.4" width="19.4" height="45.5" fill="#134a86"/>
<line x1="426.5" y1="259.6" x2="426.5" y2="260.79999999999995" stroke="#1a1a1a" stroke-width="1" />
<line x1="421.9" y1="259.5" x2="431.9" y2="259.5" stroke="#1a1a1a" stroke-width="1" />
<rect x="447.7" y="295.0" width="19.4" height="10.899999999999977" fill="#3aa935"/>
<line x1="447.7" y1="295.5" x2="467.09999999999997" y2="295.5" stroke="#2a5a2a" stroke-width="1" />
<rect x="447.7" y="300.3" width="19.4" height="5.599999999999966" fill="#134a86"/>
<line x1="457.5" y1="294.0" x2="457.5" y2="295.0" stroke="#1a1a1a" stroke-width="1" />
<line x1="452.4" y1="294.5" x2="462.4" y2="294.5" stroke="#1a1a1a" stroke-width="1" />
<line x1="457.5" y1="299.8" x2="457.5" y2="300.7" stroke="#1a1a1a" stroke-width="1" />
<line x1="452.4" y1="299.5" x2="462.4" y2="299.5" stroke="#1a1a1a" stroke-width="1" />
<rect x="479.3" y="293.4" width="19.4" height="12.5" fill="#3aa935"/>
<line x1="479.3" y1="293.5" x2="498.7" y2="293.5" stroke="#2a5a2a" stroke-width="1" />
<rect x="479.3" y="299.6" width="19.4" height="6.2999999999999545" fill="#134a86"/>
<line x1="489.5" y1="291.5" x2="489.5" y2="293.4" stroke="#1a1a1a" stroke-width="1" />
<line x1="484.0" y1="291.5" x2="494.0" y2="291.5" stroke="#1a1a1a" stroke-width="1" />
<line x1="489.5" y1="298.8" x2="489.5" y2="300.0" stroke="#1a1a1a" stroke-width="1" />
<line x1="484.0" y1="298.5" x2="494.0" y2="298.5" stroke="#1a1a1a" stroke-width="1" />
<text x="473.25" y="237.00" font-size="9.2" text-anchor="middle" fill="#55a851" stroke="#55a851" textLength="27.53" lengthAdjust="spacingAndGlyphs"><tspan font-style="italic">P</tspan> = .04</text>
<line x1="457.7" y1="239.5" x2="488.8" y2="239.5" stroke="#6aab66" stroke-width="1" />
<text x="473.25" y="251.60" font-size="9.2" text-anchor="middle" fill="#33507f" stroke="#33507f" textLength="27.53" lengthAdjust="spacingAndGlyphs"><tspan font-style="italic">P</tspan> = .17</text>
<line x1="457.7" y1="254.5" x2="488.8" y2="254.5" stroke="#3b568a" stroke-width="1" />
<line x1="73.5" y1="329.7" x2="73.5" y2="395.6" stroke="#262626" stroke-width="1" />
<line x1="72.7" y1="395.5" x2="262.5" y2="395.5" stroke="#262626" stroke-width="1" />
<line x1="70.2" y1="395.5" x2="73.3" y2="395.5" stroke="#262626" stroke-width="1" />
<text x="67.7" y="398.10" font-size="9.0" text-anchor="end" fill="#303030" stroke="#303030" textLength="4.35" lengthAdjust="spacingAndGlyphs">0</text>
<line x1="70.2" y1="382.5" x2="73.3" y2="382.5" stroke="#262626" stroke-width="1" />
<text x="67.7" y="385.60" font-size="9.0" text-anchor="end" fill="#303030" stroke="#303030" textLength="8.71" lengthAdjust="spacingAndGlyphs">50</text>
<line x1="70.2" y1="370.5" x2="73.3" y2="370.5" stroke="#262626" stroke-width="1" />
<text x="67.7" y="373.10" font-size="9.0" text-anchor="end" fill="#303030" stroke="#303030" textLength="13.06" lengthAdjust="spacingAndGlyphs">100</text>
<line x1="70.2" y1="357.5" x2="73.3" y2="357.5" stroke="#262626" stroke-width="1" />
<text x="67.7" y="360.60" font-size="9.0" text-anchor="end" fill="#303030" stroke="#303030" textLength="13.06" lengthAdjust="spacingAndGlyphs">150</text>
<line x1="70.2" y1="345.5" x2="73.3" y2="345.5" stroke="#262626" stroke-width="1" />
<text x="67.7" y="348.10" font-size="9.0" text-anchor="end" fill="#303030" stroke="#303030" textLength="13.06" lengthAdjust="spacingAndGlyphs">200</text>
<line x1="70.2" y1="332.5" x2="73.3" y2="332.5" stroke="#262626" stroke-width="1" />
<text x="67.7" y="335.60" font-size="9.0" text-anchor="end" fill="#303030" stroke="#303030" textLength="13.06" lengthAdjust="spacingAndGlyphs">250</text>
<line x1="89.5" y1="395.0" x2="89.5" y2="398.2" stroke="#262626" stroke-width="1" />
<line x1="120.5" y1="395.0" x2="120.5" y2="398.2" stroke="#262626" stroke-width="1" />
<line x1="151.5" y1="395.0" x2="151.5" y2="398.2" stroke="#262626" stroke-width="1" />
<line x1="184.5" y1="395.0" x2="184.5" y2="398.2" stroke="#262626" stroke-width="1" />
<line x1="215.5" y1="395.0" x2="215.5" y2="398.2" stroke="#262626" stroke-width="1" />
<line x1="245.5" y1="395.0" x2="245.5" y2="398.2" stroke="#262626" stroke-width="1" />
<line x1="168.5" y1="331" x2="168.5" y2="395.0" stroke="#3a3a3a" stroke-width="1" stroke-dasharray="1.6,1.7"/>
<text transform="translate(34.5,362.25) rotate(-90)" font-size="8.6" text-anchor="middle" fill="#303030" stroke="#303030" textLength="17.7" lengthAdjust="spacingAndGlyphs" >WBC</text>
<text transform="translate(47.0,362.5) rotate(-90)" font-size="8.6" text-anchor="middle" fill="#303030" stroke="#303030" textLength="58.8" lengthAdjust="spacingAndGlyphs">( ×10<tspan font-size="5.8" dy="-3.1">3</tspan><tspan dy="3.1">/µl blood)</tspan></text>
<line x1="314.5" y1="325.0" x2="314.5" y2="395.6" stroke="#262626" stroke-width="1" />
<line x1="314.2" y1="395.5" x2="504.6" y2="395.5" stroke="#262626" stroke-width="1" />
<line x1="311.7" y1="395.5" x2="314.8" y2="395.5" stroke="#262626" stroke-width="1" />
<text x="309.2" y="398.10" font-size="9.0" text-anchor="end" fill="#303030" stroke="#303030" textLength="4.35" lengthAdjust="spacingAndGlyphs">0</text>
<line x1="311.7" y1="372.5" x2="314.8" y2="372.5" stroke="#262626" stroke-width="1" />
<text x="309.2" y="375.70" font-size="9.0" text-anchor="end" fill="#303030" stroke="#303030" textLength="4.35" lengthAdjust="spacingAndGlyphs">5</text>
<line x1="311.7" y1="350.5" x2="314.8" y2="350.5" stroke="#262626" stroke-width="1" />
<text x="309.2" y="353.30" font-size="9.0" text-anchor="end" fill="#303030" stroke="#303030" textLength="8.71" lengthAdjust="spacingAndGlyphs">10</text>
<line x1="311.7" y1="327.5" x2="314.8" y2="327.5" stroke="#262626" stroke-width="1" />
<text x="309.2" y="330.90" font-size="9.0" text-anchor="end" fill="#303030" stroke="#303030" textLength="8.71" lengthAdjust="spacingAndGlyphs">15</text>
<line x1="329.5" y1="395.0" x2="329.5" y2="398.2" stroke="#262626" stroke-width="1" />
<line x1="361.5" y1="395.0" x2="361.5" y2="398.2" stroke="#262626" stroke-width="1" />
<line x1="393.5" y1="395.0" x2="393.5" y2="398.2" stroke="#262626" stroke-width="1" />
<line x1="426.5" y1="395.0" x2="426.5" y2="398.2" stroke="#262626" stroke-width="1" />
<line x1="457.5" y1="395.0" x2="457.5" y2="398.2" stroke="#262626" stroke-width="1" />
<line x1="489.5" y1="395.0" x2="489.5" y2="398.2" stroke="#262626" stroke-width="1" />
<line x1="410.5" y1="325.8" x2="410.5" y2="395.0" stroke="#3a3a3a" stroke-width="1" stroke-dasharray="1.6,1.7"/>
<line x1="79.2" y1="391.5" x2="99.2" y2="391.5" stroke="#1a1a1a" stroke-width="1" />
<line x1="89.5" y1="391.5" x2="89.5" y2="391.5" stroke="#1a1a1a" stroke-width="1" />
<line x1="89.5" y1="391.5" x2="89.5" y2="391.5" stroke="#1a1a1a" stroke-width="1" />
<line x1="89.5" y1="391.5" x2="89.5" y2="391.5" stroke="#1a1a1a" stroke-width="1" />
<rect x="84.62" y="389.93" width="3.35" height="3.35" fill="#ab0631"/>
<rect x="89.03" y="389.93" width="3.35" height="3.35" fill="#ab0631"/>
<rect x="118.42" y="340.02" width="3.35" height="3.35" fill="#ab0631"/>
<rect x="118.42" y="346.72" width="3.35" height="3.35" fill="#ab0631"/>
<rect x="117.83" y="353.93" width="3.35" height="3.35" fill="#ab0631"/>
<rect x="119.83" y="357.93" width="3.35" height="3.35" fill="#ab0631"/>
<rect x="116.33" y="367.32" width="3.35" height="3.35" fill="#ab0631"/>
<rect x="121.03" y="367.32" width="3.35" height="3.35" fill="#ab0631"/>
<rect x="118.42" y="377.52" width="3.35" height="3.35" fill="#ab0631"/>
<rect x="118.42" y="390.52" width="3.35" height="3.35" fill="#ab0631"/>
<line x1="109.6" y1="362.5" x2="130.6" y2="362.5" stroke="#1a1a1a" stroke-width="1" />
<line x1="120.5" y1="357.6" x2="120.5" y2="367.7" stroke="#1a1a1a" stroke-width="1" />
<line x1="115.1" y1="357.5" x2="125.1" y2="357.5" stroke="#1a1a1a" stroke-width="1" />
<line x1="115.1" y1="367.5" x2="125.1" y2="367.5" stroke="#1a1a1a" stroke-width="1" />
<rect x="149.52" y="364.52" width="3.35" height="3.35" fill="#ab0631"/>
<rect x="150.42" y="368.93" width="3.35" height="3.35" fill="#ab0631"/>
<rect x="148.12" y="372.32" width="3.35" height="3.35" fill="#ab0631"/>
<rect x="151.82" y="373.32" width="3.35" height="3.35" fill="#ab0631"/>
<rect x="145.22" y="380.43" width="3.35" height="3.35" fill="#ab0631"/>
<rect x="149.52" y="381.82" width="3.35" height="3.35" fill="#ab0631"/>
<rect x="146.72" y="386.22" width="3.35" height="3.35" fill="#ab0631"/>
<rect x="151.02" y="386.22" width="3.35" height="3.35" fill="#ab0631"/>
<rect x="145.22" y="390.52" width="3.35" height="3.35" fill="#ab0631"/>
<rect x="150.42" y="390.52" width="3.35" height="3.35" fill="#ab0631"/>
<line x1="140.8" y1="380.5" x2="161.8" y2="380.5" stroke="#1a1a1a" stroke-width="1" />
<line x1="151.5" y1="377.2" x2="151.5" y2="383.8" stroke="#1a1a1a" stroke-width="1" />
<line x1="146.3" y1="377.5" x2="156.3" y2="377.5" stroke="#1a1a1a" stroke-width="1" />
<line x1="146.3" y1="383.5" x2="156.3" y2="383.5" stroke="#1a1a1a" stroke-width="1" />
<text x="135.65" y="325.40" font-size="9.2" text-anchor="middle" fill="#303030" stroke="#303030" textLength="32.33" lengthAdjust="spacingAndGlyphs"><tspan font-style="italic">P</tspan> = .008</text>
<line x1="119.5" y1="330.5" x2="151.8" y2="330.5" stroke="#4a4a4a" stroke-width="1" />
<rect x="174.5" y="392.0" width="19.8" height="3.0" fill="#134a86"/>
<line x1="184.5" y1="391.4" x2="184.5" y2="392.4" stroke="#1a1a1a" stroke-width="1" />
<line x1="179.4" y1="391.5" x2="189.4" y2="391.5" stroke="#1a1a1a" stroke-width="1" />
<rect x="205.1" y="365.8" width="19.8" height="29.19999999999999" fill="#3aa935"/>
<line x1="205.1" y1="366.5" x2="224.9" y2="366.5" stroke="#2a5a2a" stroke-width="1" />
<rect x="205.1" y="391.2" width="19.8" height="3.8000000000000114" fill="#134a86"/>
<line x1="215.5" y1="360.8" x2="215.5" y2="365.8" stroke="#1a1a1a" stroke-width="1" />
<line x1="210.0" y1="360.5" x2="220.0" y2="360.5" stroke="#1a1a1a" stroke-width="1" />
<line x1="215.5" y1="390.3" x2="215.5" y2="391.59999999999997" stroke="#1a1a1a" stroke-width="1" />
<line x1="210.0" y1="390.5" x2="220.0" y2="390.5" stroke="#1a1a1a" stroke-width="1" />
<rect x="236.0" y="383.5" width="19.8" height="11.5" fill="#3aa935"/>
<line x1="236.0" y1="383.5" x2="255.8" y2="383.5" stroke="#2a5a2a" stroke-width="1" />
<rect x="236.0" y="392.1" width="19.8" height="2.8999999999999773" fill="#134a86"/>
<line x1="245.5" y1="380.6" x2="245.5" y2="383.5" stroke="#1a1a1a" stroke-width="1" />
<line x1="240.9" y1="380.5" x2="250.9" y2="380.5" stroke="#1a1a1a" stroke-width="1" />
<line x1="245.5" y1="391.3" x2="245.5" y2="392.5" stroke="#1a1a1a" stroke-width="1" />
<line x1="240.9" y1="391.5" x2="250.9" y2="391.5" stroke="#1a1a1a" stroke-width="1" />
<text x="230.35" y="326.20" font-size="9.2" text-anchor="middle" fill="#55a851" stroke="#55a851" textLength="32.33" lengthAdjust="spacingAndGlyphs"><tspan font-style="italic">P</tspan> = .009</text>
<line x1="214.0" y1="328.5" x2="246.7" y2="328.5" stroke="#6aab66" stroke-width="1" />
<text x="230.60" y="341.90" font-size="9.2" text-anchor="middle" fill="#33507f" stroke="#33507f" textLength="27.53" lengthAdjust="spacingAndGlyphs"><tspan font-style="italic">P</tspan> = .09</text>
<line x1="215.4" y1="345.5" x2="245.8" y2="345.5" stroke="#3b568a" stroke-width="1" />
<line x1="320.5" y1="341.5" x2="340.1" y2="341.5" stroke="#1a1a1a" stroke-width="1" />
<line x1="330.5" y1="337.4" x2="330.5" y2="346.6" stroke="#1a1a1a" stroke-width="1" />
<line x1="325.8" y1="337.5" x2="334.8" y2="337.5" stroke="#1a1a1a" stroke-width="1" />
<line x1="325.8" y1="346.5" x2="334.8" y2="346.5" stroke="#1a1a1a" stroke-width="1" />
<rect x="328.02" y="335.72" width="3.35" height="3.35" fill="#ab0631"/>
<rect x="328.02" y="344.93" width="3.35" height="3.35" fill="#ab0631"/>
<rect x="354.82" y="329.93" width="3.35" height="3.35" fill="#ab0631"/>
<rect x="359.22" y="333.72" width="3.35" height="3.35" fill="#ab0631"/>
<rect x="362.93" y="332.82" width="3.35" height="3.35" fill="#ab0631"/>
<rect x="360.02" y="350.12" width="3.35" height="3.35" fill="#ab0631"/>
<rect x="356.32" y="355.93" width="3.35" height="3.35" fill="#ab0631"/>
<rect x="359.82" y="355.93" width="3.35" height="3.35" fill="#ab0631"/>
<rect x="363.52" y="355.93" width="3.35" height="3.35" fill="#ab0631"/>
<rect x="361.22" y="361.72" width="3.35" height="3.35" fill="#ab0631"/>
<rect x="359.22" y="370.32" width="3.35" height="3.35" fill="#ab0631"/>
<line x1="350.7" y1="352.5" x2="371.7" y2="352.5" stroke="#1a1a1a" stroke-width="1" />
<line x1="361.5" y1="348.0" x2="361.5" y2="357.6" stroke="#1a1a1a" stroke-width="1" />
<line x1="356.2" y1="348.5" x2="366.2" y2="348.5" stroke="#1a1a1a" stroke-width="1" />
<line x1="356.2" y1="357.5" x2="366.2" y2="357.5" stroke="#1a1a1a" stroke-width="1" />
<rect x="390.02" y="332.82" width="3.35" height="3.35" fill="#ab0631"/>
<rect x="393.22" y="334.82" width="3.35" height="3.35" fill="#ab0631"/>
<rect x="392.93" y="350.12" width="3.35" height="3.35" fill="#ab0631"/>
<rect x="389.32" y="351.32" width="3.35" height="3.35" fill="#ab0631"/>
<rect x="386.62" y="356.82" width="3.35" height="3.35" fill="#ab0631"/>
<rect x="390.32" y="357.32" width="3.35" height="3.35" fill="#ab0631"/>
<rect x="394.32" y="357.93" width="3.35" height="3.35" fill="#ab0631"/>
<rect x="392.93" y="360.22" width="3.35" height="3.35" fill="#ab0631"/>
<rect x="391.72" y="372.32" width="3.35" height="3.35" fill="#ab0631"/>
<line x1="382.8" y1="354.5" x2="403.8" y2="354.5" stroke="#1a1a1a" stroke-width="1" />
<line x1="393.5" y1="351.0" x2="393.5" y2="358.2" stroke="#1a1a1a" stroke-width="1" />
<line x1="388.3" y1="351.5" x2="398.3" y2="351.5" stroke="#1a1a1a" stroke-width="1" />
<line x1="388.3" y1="358.5" x2="398.3" y2="358.5" stroke="#1a1a1a" stroke-width="1" />
<text x="377.90" y="322.40" font-size="9.2" text-anchor="middle" fill="#303030" stroke="#303030" textLength="32.33" lengthAdjust="spacingAndGlyphs"><tspan font-style="italic">P</tspan> = .716</text>
<line x1="362.3" y1="326.5" x2="393.5" y2="326.5" stroke="#4a4a4a" stroke-width="1" />
<rect x="417.2" y="342.4" width="19.4" height="52.60000000000002" fill="#134a86"/>
<line x1="426.5" y1="337.3" x2="426.5" y2="342.79999999999995" stroke="#1a1a1a" stroke-width="1" />
<line x1="421.9" y1="337.5" x2="431.9" y2="337.5" stroke="#1a1a1a" stroke-width="1" />
<rect x="447.7" y="352.3" width="19.4" height="42.69999999999999" fill="#3aa935"/>
<line x1="447.7" y1="352.5" x2="467.09999999999997" y2="352.5" stroke="#2a5a2a" stroke-width="1" />
<rect x="447.7" y="368.5" width="19.4" height="26.5" fill="#134a86"/>
<line x1="457.5" y1="349.3" x2="457.5" y2="352.3" stroke="#1a1a1a" stroke-width="1" />
<line x1="452.4" y1="349.5" x2="462.4" y2="349.5" stroke="#1a1a1a" stroke-width="1" />
<line x1="457.5" y1="366.2" x2="457.5" y2="368.9" stroke="#1a1a1a" stroke-width="1" />
<line x1="452.4" y1="366.5" x2="462.4" y2="366.5" stroke="#1a1a1a" stroke-width="1" />
<rect x="479.3" y="354.2" width="19.4" height="40.80000000000001" fill="#3aa935"/>
<line x1="479.3" y1="354.5" x2="498.7" y2="354.5" stroke="#2a5a2a" stroke-width="1" />
<rect x="479.3" y="371.5" width="19.4" height="23.5" fill="#134a86"/>
<line x1="489.5" y1="351.6" x2="489.5" y2="354.2" stroke="#1a1a1a" stroke-width="1" />
<line x1="484.0" y1="351.5" x2="494.0" y2="351.5" stroke="#1a1a1a" stroke-width="1" />
<line x1="489.5" y1="368.5" x2="489.5" y2="371.9" stroke="#1a1a1a" stroke-width="1" />
<line x1="484.0" y1="368.5" x2="494.0" y2="368.5" stroke="#1a1a1a" stroke-width="1" />
<text x="473.25" y="322.00" font-size="9.2" text-anchor="middle" fill="#55a851" stroke="#55a851" textLength="27.53" lengthAdjust="spacingAndGlyphs"><tspan font-style="italic">P</tspan> = .88</text>
<line x1="457.7" y1="325.5" x2="488.8" y2="325.5" stroke="#6aab66" stroke-width="1" />
<text x="473.25" y="336.60" font-size="9.2" text-anchor="middle" fill="#33507f" stroke="#33507f" textLength="27.53" lengthAdjust="spacingAndGlyphs"><tspan font-style="italic">P</tspan> = .40</text>
<line x1="457.7" y1="339.5" x2="488.8" y2="339.5" stroke="#3b568a" stroke-width="1" />
<line x1="73.5" y1="414.79999999999995" x2="73.5" y2="482.8" stroke="#262626" stroke-width="1" />
<line x1="72.7" y1="482.5" x2="262.5" y2="482.5" stroke="#262626" stroke-width="1" />
<line x1="70.2" y1="482.5" x2="73.3" y2="482.5" stroke="#262626" stroke-width="1" />
<text x="67.7" y="485.30" font-size="9.0" text-anchor="end" fill="#303030" stroke="#303030" textLength="4.35" lengthAdjust="spacingAndGlyphs">0</text>
<line x1="70.2" y1="460.5" x2="73.3" y2="460.5" stroke="#262626" stroke-width="1" />
<text x="67.7" y="463.77" font-size="9.0" text-anchor="end" fill="#303030" stroke="#303030" textLength="8.71" lengthAdjust="spacingAndGlyphs">50</text>
<line x1="70.2" y1="439.5" x2="73.3" y2="439.5" stroke="#262626" stroke-width="1" />
<text x="67.7" y="442.23" font-size="9.0" text-anchor="end" fill="#303030" stroke="#303030" textLength="13.06" lengthAdjust="spacingAndGlyphs">100</text>
<line x1="70.2" y1="417.5" x2="73.3" y2="417.5" stroke="#262626" stroke-width="1" />
<text x="67.7" y="420.70" font-size="9.0" text-anchor="end" fill="#303030" stroke="#303030" textLength="13.06" lengthAdjust="spacingAndGlyphs">150</text>
<line x1="89.5" y1="482.2" x2="89.5" y2="485.4" stroke="#262626" stroke-width="1" />
<line x1="120.5" y1="482.2" x2="120.5" y2="485.4" stroke="#262626" stroke-width="1" />
<line x1="151.5" y1="482.2" x2="151.5" y2="485.4" stroke="#262626" stroke-width="1" />
<line x1="184.5" y1="482.2" x2="184.5" y2="485.4" stroke="#262626" stroke-width="1" />
<line x1="215.5" y1="482.2" x2="215.5" y2="485.4" stroke="#262626" stroke-width="1" />
<line x1="245.5" y1="482.2" x2="245.5" y2="485.4" stroke="#262626" stroke-width="1" />
<line x1="168.5" y1="417" x2="168.5" y2="482.2" stroke="#3a3a3a" stroke-width="1" stroke-dasharray="1.6,1.7"/>
<text transform="translate(35.1,448.5) rotate(-90)" font-size="8.6" text-anchor="middle" fill="#303030" stroke="#303030" textLength="41.3" lengthAdjust="spacingAndGlyphs" >Neutrophils</text>
<text transform="translate(47.1,449.0) rotate(-90)" font-size="8.6" text-anchor="middle" fill="#303030" stroke="#303030" textLength="58.8" lengthAdjust="spacingAndGlyphs">( ×10<tspan font-size="5.8" dy="-3.1">3</tspan><tspan dy="3.1">/µl blood)</tspan></text>
<line x1="314.5" y1="413.9" x2="314.5" y2="482.8" stroke="#262626" stroke-width="1" />
<line x1="314.2" y1="482.5" x2="504.6" y2="482.5" stroke="#262626" stroke-width="1" />
<line x1="311.7" y1="482.5" x2="314.8" y2="482.5" stroke="#262626" stroke-width="1" />
<text x="309.2" y="485.30" font-size="9.0" text-anchor="end" fill="#303030" stroke="#303030" textLength="10.88" lengthAdjust="spacingAndGlyphs">0.0</text>
<line x1="311.7" y1="469.5" x2="314.8" y2="469.5" stroke="#262626" stroke-width="1" />
<text x="309.2" y="472.20" font-size="9.0" text-anchor="end" fill="#303030" stroke="#303030" textLength="10.88" lengthAdjust="spacingAndGlyphs">0.2</text>
<line x1="311.7" y1="456.5" x2="314.8" y2="456.5" stroke="#262626" stroke-width="1" />
<text x="309.2" y="459.10" font-size="9.0" text-anchor="end" fill="#303030" stroke="#303030" textLength="10.88" lengthAdjust="spacingAndGlyphs">0.4</text>
<line x1="311.7" y1="442.5" x2="314.8" y2="442.5" stroke="#262626" stroke-width="1" />
<text x="309.2" y="446.00" font-size="9.0" text-anchor="end" fill="#303030" stroke="#303030" textLength="10.88" lengthAdjust="spacingAndGlyphs">0.6</text>
<line x1="311.7" y1="429.5" x2="314.8" y2="429.5" stroke="#262626" stroke-width="1" />
<text x="309.2" y="432.90" font-size="9.0" text-anchor="end" fill="#303030" stroke="#303030" textLength="10.88" lengthAdjust="spacingAndGlyphs">0.8</text>
<line x1="311.7" y1="416.5" x2="314.8" y2="416.5" stroke="#262626" stroke-width="1" />
<text x="309.2" y="419.80" font-size="9.0" text-anchor="end" fill="#303030" stroke="#303030" textLength="10.88" lengthAdjust="spacingAndGlyphs">1.0</text>
<line x1="329.5" y1="482.2" x2="329.5" y2="485.4" stroke="#262626" stroke-width="1" />
<line x1="361.5" y1="482.2" x2="361.5" y2="485.4" stroke="#262626" stroke-width="1" />
<line x1="393.5" y1="482.2" x2="393.5" y2="485.4" stroke="#262626" stroke-width="1" />
<line x1="426.5" y1="482.2" x2="426.5" y2="485.4" stroke="#262626" stroke-width="1" />
<line x1="457.5" y1="482.2" x2="457.5" y2="485.4" stroke="#262626" stroke-width="1" />
<line x1="489.5" y1="482.2" x2="489.5" y2="485.4" stroke="#262626" stroke-width="1" />
<line x1="410.5" y1="412.3" x2="410.5" y2="482.2" stroke="#3a3a3a" stroke-width="1" stroke-dasharray="1.6,1.7"/>
<line x1="78.7" y1="481.5" x2="96.7" y2="481.5" stroke="#1a1a1a" stroke-width="1" />
<line x1="87.5" y1="481.5" x2="87.5" y2="481.5" stroke="#1a1a1a" stroke-width="1" />
<line x1="87.5" y1="481.5" x2="87.5" y2="481.5" stroke="#1a1a1a" stroke-width="1" />
<line x1="87.5" y1="481.5" x2="87.5" y2="481.5" stroke="#1a1a1a" stroke-width="1" />
<rect x="85.53" y="479.02" width="3.35" height="3.35" fill="#ab0631"/>
<rect x="91.83" y="478.32" width="3.35" height="3.35" fill="#ab0631"/>
<rect x="117.83" y="430.82" width="3.35" height="3.35" fill="#ab0631"/>
<rect x="114.12" y="435.12" width="3.35" height="3.35" fill="#ab0631"/>
<rect x="118.73" y="436.62" width="3.35" height="3.35" fill="#ab0631"/>
<rect x="122.73" y="434.32" width="3.35" height="3.35" fill="#ab0631"/>
<rect x="118.42" y="455.32" width="3.35" height="3.35" fill="#ab0631"/>
<rect x="114.92" y="470.62" width="3.35" height="3.35" fill="#ab0631"/>
<rect x="120.73" y="471.22" width="3.35" height="3.35" fill="#ab0631"/>
<rect x="118.42" y="479.82" width="3.35" height="3.35" fill="#ab0631"/>
<line x1="109.6" y1="453.5" x2="130.6" y2="453.5" stroke="#1a1a1a" stroke-width="1" />
<line x1="120.5" y1="446.9" x2="120.5" y2="459.9" stroke="#1a1a1a" stroke-width="1" />
<line x1="115.1" y1="446.5" x2="125.1" y2="446.5" stroke="#1a1a1a" stroke-width="1" />
<line x1="115.1" y1="459.5" x2="125.1" y2="459.5" stroke="#1a1a1a" stroke-width="1" />
<rect x="151.62" y="443.82" width="3.35" height="3.35" fill="#ab0631"/>
<rect x="146.72" y="460.22" width="3.35" height="3.35" fill="#ab0631"/>
<rect x="151.02" y="461.12" width="3.35" height="3.35" fill="#ab0631"/>
<rect x="154.42" y="464.02" width="3.35" height="3.35" fill="#ab0631"/>
<rect x="149.82" y="468.32" width="3.35" height="3.35" fill="#ab0631"/>
<rect x="142.32" y="477.82" width="3.35" height="3.35" fill="#ab0631"/>
<rect x="146.12" y="478.32" width="3.35" height="3.35" fill="#ab0631"/>
<rect x="150.32" y="478.32" width="3.35" height="3.35" fill="#ab0631"/>
<rect x="153.82" y="477.82" width="3.35" height="3.35" fill="#ab0631"/>
<rect x="158.22" y="477.52" width="3.35" height="3.35" fill="#ab0631"/>
<line x1="140.8" y1="470.5" x2="161.8" y2="470.5" stroke="#1a1a1a" stroke-width="1" />
<line x1="151.5" y1="466.5" x2="151.5" y2="473.7" stroke="#1a1a1a" stroke-width="1" />
<line x1="146.3" y1="466.5" x2="156.3" y2="466.5" stroke="#1a1a1a" stroke-width="1" />
<line x1="146.3" y1="473.5" x2="156.3" y2="473.5" stroke="#1a1a1a" stroke-width="1" />
<text x="136.10" y="410.40" font-size="9.2" text-anchor="middle" fill="#303030" stroke="#303030" textLength="27.53" lengthAdjust="spacingAndGlyphs"><tspan font-style="italic">P</tspan> = .03</text>
<line x1="121.0" y1="415.5" x2="151.2" y2="415.5" stroke="#4a4a4a" stroke-width="1" />
<rect x="174.5" y="481.9" width="19.8" height="0.30000000000001137" fill="#134a86"/>
<rect x="205.1" y="453.3" width="19.8" height="28.899999999999977" fill="#3aa935"/>
<line x1="205.1" y1="453.5" x2="224.9" y2="453.5" stroke="#2a5a2a" stroke-width="1" />
<rect x="205.1" y="481.8" width="19.8" height="0.39999999999997726" fill="#134a86"/>
<line x1="215.5" y1="446.3" x2="215.5" y2="453.3" stroke="#1a1a1a" stroke-width="1" />
<line x1="210.0" y1="446.5" x2="220.0" y2="446.5" stroke="#1a1a1a" stroke-width="1" />
<rect x="236.0" y="470.0" width="19.8" height="12.199999999999989" fill="#3aa935"/>
<line x1="236.0" y1="470.5" x2="255.8" y2="470.5" stroke="#2a5a2a" stroke-width="1" />
<rect x="236.0" y="481.8" width="19.8" height="0.39999999999997726" fill="#134a86"/>
<line x1="245.5" y1="466.5" x2="245.5" y2="470.0" stroke="#1a1a1a" stroke-width="1" />
<line x1="240.9" y1="466.5" x2="250.9" y2="466.5" stroke="#1a1a1a" stroke-width="1" />
<text x="230.70" y="411.70" font-size="9.2" text-anchor="middle" fill="#55a851" stroke="#55a851" textLength="27.53" lengthAdjust="spacingAndGlyphs"><tspan font-style="italic">P</tspan> = .03</text>
<line x1="216.0" y1="415.5" x2="245.4" y2="415.5" stroke="#6aab66" stroke-width="1" />
<text x="230.70" y="428.10" font-size="9.2" text-anchor="middle" fill="#33507f" stroke="#33507f" textLength="27.53" lengthAdjust="spacingAndGlyphs"><tspan font-style="italic">P</tspan> = .86</text>
<line x1="216.0" y1="431.5" x2="245.4" y2="431.5" stroke="#3b568a" stroke-width="1" />
<line x1="320.5" y1="456.5" x2="340.5" y2="456.5" stroke="#1a1a1a" stroke-width="1" />
<line x1="330.5" y1="456.5" x2="330.5" y2="456.5" stroke="#1a1a1a" stroke-width="1" />
<line x1="330.5" y1="456.5" x2="330.5" y2="456.5" stroke="#1a1a1a" stroke-width="1" />
<line x1="330.5" y1="456.5" x2="330.5" y2="456.5" stroke="#1a1a1a" stroke-width="1" />
<rect x="324.52" y="454.43" width="3.35" height="3.35" fill="#ab0631"/>
<rect x="331.22" y="454.43" width="3.35" height="3.35" fill="#ab0631"/>
<rect x="355.43" y="447.52" width="3.35" height="3.35" fill="#ab0631"/>
<rect x="362.02" y="447.52" width="3.35" height="3.35" fill="#ab0631"/>
<rect x="357.12" y="454.43" width="3.35" height="3.35" fill="#ab0631"/>
<rect x="360.62" y="454.43" width="3.35" height="3.35" fill="#ab0631"/>
<rect x="363.82" y="454.43" width="3.35" height="3.35" fill="#ab0631"/>
<rect x="354.82" y="461.12" width="3.35" height="3.35" fill="#ab0631"/>
<rect x="359.32" y="461.12" width="3.35" height="3.35" fill="#ab0631"/>
<rect x="363.82" y="461.12" width="3.35" height="3.35" fill="#ab0631"/>
<rect x="355.43" y="468.32" width="3.35" height="3.35" fill="#ab0631"/>
<rect x="360.02" y="468.32" width="3.35" height="3.35" fill="#ab0631"/>
<line x1="350.7" y1="460.5" x2="371.7" y2="460.5" stroke="#1a1a1a" stroke-width="1" />
<line x1="361.5" y1="458.5" x2="361.5" y2="462.5" stroke="#1a1a1a" stroke-width="1" />
<line x1="356.7" y1="458.5" x2="365.7" y2="458.5" stroke="#1a1a1a" stroke-width="1" />
<line x1="356.7" y1="462.5" x2="365.7" y2="462.5" stroke="#1a1a1a" stroke-width="1" />
<rect x="391.82" y="422.12" width="3.35" height="3.35" fill="#ab0631"/>
<rect x="392.32" y="441.52" width="3.35" height="3.35" fill="#ab0631"/>
<rect x="391.82" y="454.43" width="3.35" height="3.35" fill="#ab0631"/>
<rect x="388.02" y="461.12" width="3.35" height="3.35" fill="#ab0631"/>
<rect x="395.22" y="461.12" width="3.35" height="3.35" fill="#ab0631"/>
<rect x="386.62" y="468.32" width="3.35" height="3.35" fill="#ab0631"/>
<rect x="391.82" y="468.32" width="3.35" height="3.35" fill="#ab0631"/>
<rect x="396.62" y="468.32" width="3.35" height="3.35" fill="#ab0631"/>
<line x1="382.8" y1="455.5" x2="403.8" y2="455.5" stroke="#1a1a1a" stroke-width="1" />
<line x1="393.5" y1="450.4" x2="393.5" y2="460.8" stroke="#1a1a1a" stroke-width="1" />
<line x1="388.3" y1="450.5" x2="398.3" y2="450.5" stroke="#1a1a1a" stroke-width="1" />
<line x1="388.3" y1="460.5" x2="398.3" y2="460.5" stroke="#1a1a1a" stroke-width="1" />
<text x="377.60" y="411.30" font-size="9.2" text-anchor="middle" fill="#303030" stroke="#303030" textLength="27.53" lengthAdjust="spacingAndGlyphs"><tspan font-style="italic">P</tspan> = .39</text>
<line x1="361.7" y1="416.5" x2="393.5" y2="416.5" stroke="#4a4a4a" stroke-width="1" />
<rect x="417.2" y="456.6" width="19.4" height="25.599999999999966" fill="#134a86"/>
<rect x="447.7" y="460.3" width="19.4" height="21.899999999999977" fill="#3aa935"/>
<line x1="447.7" y1="460.5" x2="467.09999999999997" y2="460.5" stroke="#2a5a2a" stroke-width="1" />
<rect x="447.7" y="469.3" width="19.4" height="12.899999999999977" fill="#134a86"/>
<line x1="457.5" y1="458.5" x2="457.5" y2="460.3" stroke="#1a1a1a" stroke-width="1" />
<line x1="452.4" y1="458.5" x2="462.4" y2="458.5" stroke="#1a1a1a" stroke-width="1" />
<line x1="457.5" y1="467.5" x2="457.5" y2="469.7" stroke="#1a1a1a" stroke-width="1" />
<line x1="452.4" y1="467.5" x2="462.4" y2="467.5" stroke="#1a1a1a" stroke-width="1" />
<rect x="479.3" y="455.7" width="19.4" height="26.5" fill="#3aa935"/>
<line x1="479.3" y1="456.5" x2="498.7" y2="456.5" stroke="#2a5a2a" stroke-width="1" />
<rect x="479.3" y="469.3" width="19.4" height="12.899999999999977" fill="#134a86"/>
<line x1="489.5" y1="452.2" x2="489.5" y2="455.7" stroke="#1a1a1a" stroke-width="1" />
<line x1="484.0" y1="452.5" x2="494.0" y2="452.5" stroke="#1a1a1a" stroke-width="1" />
<line x1="489.5" y1="466.5" x2="489.5" y2="469.7" stroke="#1a1a1a" stroke-width="1" />
<line x1="484.0" y1="466.5" x2="494.0" y2="466.5" stroke="#1a1a1a" stroke-width="1" />
<text x="473.25" y="412.70" font-size="9.2" text-anchor="middle" fill="#55a851" stroke="#55a851" textLength="27.53" lengthAdjust="spacingAndGlyphs"><tspan font-style="italic">P</tspan> = .12</text>
<line x1="457.7" y1="415.5" x2="488.8" y2="415.5" stroke="#6aab66" stroke-width="1" />
<text x="473.25" y="427.20" font-size="9.2" text-anchor="middle" fill="#33507f" stroke="#33507f" textLength="27.53" lengthAdjust="spacingAndGlyphs"><tspan font-style="italic">P</tspan> = .88</text>
<line x1="457.7" y1="430.5" x2="488.8" y2="430.5" stroke="#3b568a" stroke-width="1" />
<line x1="73.5" y1="500.96" x2="73.5" y2="566.6" stroke="#262626" stroke-width="1" />
<line x1="72.7" y1="566.5" x2="262.5" y2="566.5" stroke="#262626" stroke-width="1" />
<line x1="70.2" y1="566.5" x2="73.3" y2="566.5" stroke="#262626" stroke-width="1" />
<text x="67.7" y="569.10" font-size="9.0" text-anchor="end" fill="#303030" stroke="#303030" textLength="4.35" lengthAdjust="spacingAndGlyphs">0</text>
<line x1="70.2" y1="550.5" x2="73.3" y2="550.5" stroke="#262626" stroke-width="1" />
<text x="67.7" y="553.54" font-size="9.0" text-anchor="end" fill="#303030" stroke="#303030" textLength="4.35" lengthAdjust="spacingAndGlyphs">4</text>
<line x1="70.2" y1="534.5" x2="73.3" y2="534.5" stroke="#262626" stroke-width="1" />
<text x="67.7" y="537.98" font-size="9.0" text-anchor="end" fill="#303030" stroke="#303030" textLength="4.35" lengthAdjust="spacingAndGlyphs">8</text>
<line x1="70.2" y1="519.5" x2="73.3" y2="519.5" stroke="#262626" stroke-width="1" />
<text x="67.7" y="522.42" font-size="9.0" text-anchor="end" fill="#303030" stroke="#303030" textLength="8.71" lengthAdjust="spacingAndGlyphs">12</text>
<line x1="70.2" y1="503.5" x2="73.3" y2="503.5" stroke="#262626" stroke-width="1" />
<text x="67.7" y="506.86" font-size="9.0" text-anchor="end" fill="#303030" stroke="#303030" textLength="8.71" lengthAdjust="spacingAndGlyphs">16</text>
<line x1="89.5" y1="566.0" x2="89.5" y2="569.2" stroke="#262626" stroke-width="1" />
<line x1="120.5" y1="566.0" x2="120.5" y2="569.2" stroke="#262626" stroke-width="1" />
<line x1="151.5" y1="566.0" x2="151.5" y2="569.2" stroke="#262626" stroke-width="1" />
<line x1="184.5" y1="566.0" x2="184.5" y2="569.2" stroke="#262626" stroke-width="1" />
<line x1="215.5" y1="566.0" x2="215.5" y2="569.2" stroke="#262626" stroke-width="1" />
<line x1="245.5" y1="566.0" x2="245.5" y2="569.2" stroke="#262626" stroke-width="1" />
<line x1="168.5" y1="501.2" x2="168.5" y2="566.0" stroke="#3a3a3a" stroke-width="1" stroke-dasharray="1.6,1.7"/>
<text transform="translate(39.1,533.0) rotate(-90)" font-size="8.6" text-anchor="middle" fill="#303030" stroke="#303030" textLength="14.0" lengthAdjust="spacingAndGlyphs" >RBC</text>
<text transform="translate(50.9,533.3) rotate(-90)" font-size="8.6" text-anchor="middle" fill="#303030" stroke="#303030" textLength="58.4" lengthAdjust="spacingAndGlyphs">( ×10<tspan font-size="5.8" dy="-3.1">3</tspan><tspan dy="3.1">/µl blood)</tspan></text>
<line x1="314.5" y1="500.0" x2="314.5" y2="566.6" stroke="#262626" stroke-width="1" />
<line x1="314.2" y1="566.5" x2="504.6" y2="566.5" stroke="#262626" stroke-width="1" />
<line x1="311.7" y1="566.5" x2="314.8" y2="566.5" stroke="#262626" stroke-width="1" />
<text x="309.2" y="569.10" font-size="9.0" text-anchor="end" fill="#303030" stroke="#303030" textLength="4.35" lengthAdjust="spacingAndGlyphs">0</text>
<line x1="311.7" y1="550.5" x2="314.8" y2="550.5" stroke="#262626" stroke-width="1" />
<text x="309.2" y="553.30" font-size="9.0" text-anchor="end" fill="#303030" stroke="#303030" textLength="4.35" lengthAdjust="spacingAndGlyphs">4</text>
<line x1="311.7" y1="534.5" x2="314.8" y2="534.5" stroke="#262626" stroke-width="1" />
<text x="309.2" y="537.50" font-size="9.0" text-anchor="end" fill="#303030" stroke="#303030" textLength="4.35" lengthAdjust="spacingAndGlyphs">8</text>
<line x1="311.7" y1="518.5" x2="314.8" y2="518.5" stroke="#262626" stroke-width="1" />
<text x="309.2" y="521.70" font-size="9.0" text-anchor="end" fill="#303030" stroke="#303030" textLength="8.71" lengthAdjust="spacingAndGlyphs">12</text>
<line x1="311.7" y1="502.5" x2="314.8" y2="502.5" stroke="#262626" stroke-width="1" />
<text x="309.2" y="505.90" font-size="9.0" text-anchor="end" fill="#303030" stroke="#303030" textLength="8.71" lengthAdjust="spacingAndGlyphs">16</text>
<line x1="329.5" y1="566.0" x2="329.5" y2="569.2" stroke="#262626" stroke-width="1" />
<line x1="361.5" y1="566.0" x2="361.5" y2="569.2" stroke="#262626" stroke-width="1" />
<line x1="393.5" y1="566.0" x2="393.5" y2="569.2" stroke="#262626" stroke-width="1" />
<line x1="426.5" y1="566.0" x2="426.5" y2="569.2" stroke="#262626" stroke-width="1" />
<line x1="457.5" y1="566.0" x2="457.5" y2="569.2" stroke="#262626" stroke-width="1" />
<line x1="489.5" y1="566.0" x2="489.5" y2="569.2" stroke="#262626" stroke-width="1" />
<line x1="410.5" y1="500.8" x2="410.5" y2="566.0" stroke="#3a3a3a" stroke-width="1" stroke-dasharray="1.6,1.7"/>
<line x1="79.4" y1="525.5" x2="99.0" y2="525.5" stroke="#1a1a1a" stroke-width="1" />
<line x1="89.5" y1="523.3" x2="89.5" y2="527.9" stroke="#1a1a1a" stroke-width="1" />
<line x1="84.7" y1="523.5" x2="93.7" y2="523.5" stroke="#1a1a1a" stroke-width="1" />
<line x1="84.7" y1="527.5" x2="93.7" y2="527.5" stroke="#1a1a1a" stroke-width="1" />
<rect x="86.73" y="522.12" width="3.35" height="3.35" fill="#ab0631"/>
<rect x="86.73" y="525.93" width="3.35" height="3.35" fill="#ab0631"/>
<rect x="118.62" y="511.32" width="3.35" height="3.35" fill="#ab0631"/>
<rect x="113.42" y="515.33" width="3.35" height="3.35" fill="#ab0631"/>
<rect x="123.53" y="517.33" width="3.35" height="3.35" fill="#ab0631"/>
<rect x="117.33" y="518.83" width="3.35" height="3.35" fill="#ab0631"/>
<rect x="111.73" y="522.53" width="3.35" height="3.35" fill="#ab0631"/>
<rect x="124.92" y="523.43" width="3.35" height="3.35" fill="#ab0631"/>
<rect x="114.83" y="522.83" width="3.35" height="3.35" fill="#ab0631"/>
<rect x="120.83" y="522.83" width="3.35" height="3.35" fill="#ab0631"/>
<rect x="117.92" y="525.12" width="3.35" height="3.35" fill="#ab0631"/>
<rect x="117.92" y="529.12" width="3.35" height="3.35" fill="#ab0631"/>
<line x1="109.6" y1="523.5" x2="130.6" y2="523.5" stroke="#1a1a1a" stroke-width="1" />
<line x1="120.5" y1="521.2" x2="120.5" y2="526.1" stroke="#1a1a1a" stroke-width="1" />
<line x1="115.1" y1="521.5" x2="125.1" y2="521.5" stroke="#1a1a1a" stroke-width="1" />
<line x1="115.1" y1="526.5" x2="125.1" y2="526.5" stroke="#1a1a1a" stroke-width="1" />
<rect x="144.22" y="513.53" width="3.35" height="3.35" fill="#ab0631"/>
<rect x="149.42" y="513.53" width="3.35" height="3.35" fill="#ab0631"/>
<rect x="156.02" y="512.53" width="3.35" height="3.35" fill="#ab0631"/>
<rect x="151.22" y="515.62" width="3.35" height="3.35" fill="#ab0631"/>
<rect x="144.62" y="519.43" width="3.35" height="3.35" fill="#ab0631"/>
<rect x="154.32" y="519.93" width="3.35" height="3.35" fill="#ab0631"/>
<rect x="146.02" y="532.62" width="3.35" height="3.35" fill="#ab0631"/>
<rect x="153.72" y="533.83" width="3.35" height="3.35" fill="#ab0631"/>
<rect x="149.42" y="537.23" width="3.35" height="3.35" fill="#ab0631"/>
<rect x="149.82" y="545.93" width="3.35" height="3.35" fill="#ab0631"/>
<line x1="140.8" y1="525.5" x2="161.8" y2="525.5" stroke="#1a1a1a" stroke-width="1" />
<line x1="151.5" y1="521.6" x2="151.5" y2="529.8" stroke="#1a1a1a" stroke-width="1" />
<line x1="146.3" y1="521.5" x2="156.3" y2="521.5" stroke="#1a1a1a" stroke-width="1" />
<line x1="146.3" y1="529.5" x2="156.3" y2="529.5" stroke="#1a1a1a" stroke-width="1" />
<text x="136.25" y="497.10" font-size="9.2" text-anchor="middle" fill="#303030" stroke="#303030" textLength="32.33" lengthAdjust="spacingAndGlyphs">P = .928</text>
<line x1="120.4" y1="502.5" x2="152.1" y2="502.5" stroke="#262626" stroke-width="1" />
<line x1="320.7" y1="523.5" x2="341.3" y2="523.5" stroke="#1a1a1a" stroke-width="1" />
<line x1="331.5" y1="523.5" x2="331.5" y2="523.5" stroke="#1a1a1a" stroke-width="1" />
<line x1="331.5" y1="523.5" x2="331.5" y2="523.5" stroke="#1a1a1a" stroke-width="1" />
<line x1="331.5" y1="523.5" x2="331.5" y2="523.5" stroke="#1a1a1a" stroke-width="1" />
<rect x="326.02" y="522.12" width="3.35" height="3.35" fill="#ab0631"/>
<rect x="331.22" y="522.12" width="3.35" height="3.35" fill="#ab0631"/>
<rect x="350.43" y="510.72" width="3.35" height="3.35" fill="#ab0631"/>
<rect x="353.12" y="511.82" width="3.35" height="3.35" fill="#ab0631"/>
<rect x="359.22" y="509.12" width="3.35" height="3.35" fill="#ab0631"/>
<rect x="355.82" y="512.33" width="3.35" height="3.35" fill="#ab0631"/>
<rect x="365.22" y="511.82" width="3.35" height="3.35" fill="#ab0631"/>
<rect x="368.22" y="511.12" width="3.35" height="3.35" fill="#ab0631"/>
<rect x="354.52" y="514.53" width="3.35" height="3.35" fill="#ab0631"/>
<rect x="358.52" y="514.23" width="3.35" height="3.35" fill="#ab0631"/>
<rect x="362.52" y="514.23" width="3.35" height="3.35" fill="#ab0631"/>
<rect x="355.82" y="517.43" width="3.35" height="3.35" fill="#ab0631"/>
<rect x="362.52" y="517.43" width="3.35" height="3.35" fill="#ab0631"/>
<rect x="359.22" y="520.93" width="3.35" height="3.35" fill="#ab0631"/>
<line x1="350.7" y1="515.5" x2="371.7" y2="515.5" stroke="#1a1a1a" stroke-width="1" />
<line x1="361.5" y1="513.5" x2="361.5" y2="517.5" stroke="#1a1a1a" stroke-width="1" />
<line x1="356.7" y1="513.5" x2="365.7" y2="513.5" stroke="#1a1a1a" stroke-width="1" />
<line x1="356.7" y1="517.5" x2="365.7" y2="517.5" stroke="#1a1a1a" stroke-width="1" />
<rect x="385.72" y="507.52" width="3.35" height="3.35" fill="#ab0631"/>
<rect x="390.12" y="508.02" width="3.35" height="3.35" fill="#ab0631"/>
<rect x="393.52" y="507.72" width="3.35" height="3.35" fill="#ab0631"/>
<rect x="397.32" y="507.22" width="3.35" height="3.35" fill="#ab0631"/>
<rect x="392.12" y="514.23" width="3.35" height="3.35" fill="#ab0631"/>
<rect x="389.82" y="514.83" width="3.35" height="3.35" fill="#ab0631"/>
<rect x="388.32" y="518.53" width="3.35" height="3.35" fill="#ab0631"/>
<rect x="391.52" y="520.12" width="3.35" height="3.35" fill="#ab0631"/>
<rect x="395.52" y="519.62" width="3.35" height="3.35" fill="#ab0631"/>
<rect x="393.32" y="521.33" width="3.35" height="3.35" fill="#ab0631"/>
<line x1="382.8" y1="515.5" x2="403.8" y2="515.5" stroke="#1a1a1a" stroke-width="1" />
<line x1="393.5" y1="513.2" x2="393.5" y2="517.2" stroke="#1a1a1a" stroke-width="1" />
<line x1="388.8" y1="513.5" x2="397.8" y2="513.5" stroke="#1a1a1a" stroke-width="1" />
<line x1="388.8" y1="517.5" x2="397.8" y2="517.5" stroke="#1a1a1a" stroke-width="1" />
<text x="377.60" y="496.30" font-size="9.2" text-anchor="middle" fill="#303030" stroke="#303030" textLength="32.33" lengthAdjust="spacingAndGlyphs"><tspan font-style="italic">P</tspan> = .797</text>
<line x1="361.7" y1="501.5" x2="393.5" y2="501.5" stroke="#4a4a4a" stroke-width="1" />
<text transform="translate(92.6,572.3) rotate(-90)" font-size="8.5" text-anchor="end" fill="#303030" stroke="#303030" textLength="47.9" lengthAdjust="spacingAndGlyphs" >C57BL/6 ctrl</text>
<text transform="translate(187.70000000000002,572.3) rotate(-90)" font-size="8.5" text-anchor="end" fill="#303030" stroke="#303030" textLength="47.9" lengthAdjust="spacingAndGlyphs" >C57BL/6 ctrl</text>
<text transform="translate(123.3,575.3) rotate(-90)" font-size="8.5" text-anchor="end" fill="#303030" stroke="#303030" textLength="28.2" lengthAdjust="spacingAndGlyphs" >mIgG2a</text>
<text transform="translate(218.2,575.3) rotate(-90)" font-size="8.5" text-anchor="end" fill="#303030" stroke="#303030" textLength="28.2" lengthAdjust="spacingAndGlyphs" >mIgG2a</text>
<text transform="translate(150.9,572.4) rotate(-90)" font-size="8.2" text-anchor="end" fill="#303030" stroke="#303030" textLength="20.0" lengthAdjust="spacingAndGlyphs" >58A2</text>
<text transform="translate(158.29999999999998,572.2) rotate(-90)" font-size="8.0" text-anchor="end" fill="#303030" stroke="#303030" textLength="77.5" lengthAdjust="spacingAndGlyphs" >(anti-GARP: TGF-β1)</text>
<text transform="translate(245.70000000000002,572.4) rotate(-90)" font-size="8.2" text-anchor="end" fill="#303030" stroke="#303030" textLength="20.0" lengthAdjust="spacingAndGlyphs" >58A2</text>
<text transform="translate(253.1,572.2) rotate(-90)" font-size="8.0" text-anchor="end" fill="#303030" stroke="#303030" textLength="77.5" lengthAdjust="spacingAndGlyphs" >(anti-GARP: TGF-β1)</text>
<text transform="translate(333.1,572.3) rotate(-90)" font-size="8.5" text-anchor="end" fill="#303030" stroke="#303030" textLength="47.9" lengthAdjust="spacingAndGlyphs" >C57BL/6 ctrl</text>
<text transform="translate(430.2,572.3) rotate(-90)" font-size="8.5" text-anchor="end" fill="#303030" stroke="#303030" textLength="47.9" lengthAdjust="spacingAndGlyphs" >C57BL/6 ctrl</text>
<text transform="translate(364.4,575.3) rotate(-90)" font-size="8.5" text-anchor="end" fill="#303030" stroke="#303030" textLength="28.2" lengthAdjust="spacingAndGlyphs" >mIgG2a</text>
<text transform="translate(460.59999999999997,575.3) rotate(-90)" font-size="8.5" text-anchor="end" fill="#303030" stroke="#303030" textLength="28.2" lengthAdjust="spacingAndGlyphs" >mIgG2a</text>
<text transform="translate(393.0,572.4) rotate(-90)" font-size="8.2" text-anchor="end" fill="#303030" stroke="#303030" textLength="20.0" lengthAdjust="spacingAndGlyphs" >58A2</text>
<text transform="translate(400.4,572.2) rotate(-90)" font-size="8.0" text-anchor="end" fill="#303030" stroke="#303030" textLength="77.5" lengthAdjust="spacingAndGlyphs" >(anti-GARP: TGF-β1)</text>
<text transform="translate(488.8,572.4) rotate(-90)" font-size="8.2" text-anchor="end" fill="#303030" stroke="#303030" textLength="20.0" lengthAdjust="spacingAndGlyphs" >58A2</text>
<text transform="translate(496.2,572.2) rotate(-90)" font-size="8.0" text-anchor="end" fill="#303030" stroke="#303030" textLength="77.5" lengthAdjust="spacingAndGlyphs" >(anti-GARP: TGF-β1)</text>
</svg>
</body></html>
